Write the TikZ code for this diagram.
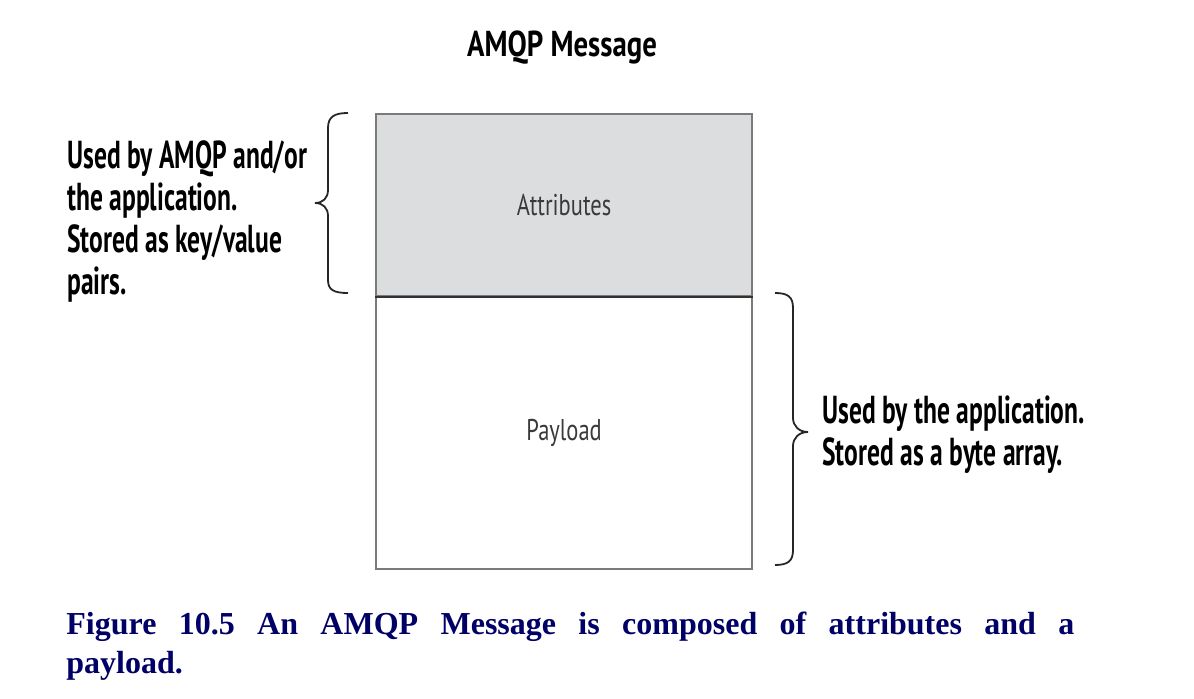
\documentclass[tikz,border=0pt]{standalone}
\usepackage{fontspec}
\setmainfont{Liberation Serif}
\newfontfamily\lblfont[FakeStretch=0.655]{PT Sans}
\newfontfamily\titlefont[FakeStretch=0.8]{PT Sans}
\newfontfamily\innerfont[FakeStretch=0.75]{PT Sans}
\definecolor{capnavy}{HTML}{000066}
\definecolor{boxgray}{HTML}{DCDDDF}
\definecolor{edgegray}{HTML}{7A7A7A}
\definecolor{innertext}{HTML}{3A3A3A}
\tikzset{
  side/.style={font=\lblfont\bfseries\fontsize{19.5}{21}\selectfont, align=left, inner sep=0pt, anchor=north west},
  inner/.style={font=\innerfont\fontsize{15}{17}\selectfont, text=innertext, inner sep=0pt},
  bracestyle/.style={line width=0.9pt, black!85},
}
\begin{document}
\begin{tikzpicture}[x=0.5pt,y=-0.5pt]
\useasboundingbox (0,0) rectangle (1194,699);
% boxes
\node[draw=edgegray, line width=1.1pt, fill=boxgray, minimum width=188pt, minimum height=91pt, inner sep=0pt, anchor=north west] (attr) at (375,113) {};
\node[draw=edgegray, line width=1.1pt, fill=white, minimum width=188pt, minimum height=136.5pt, inner sep=0pt, anchor=north west] (pay) at (375,295) {};
\draw[line width=1.1pt, black!80] (attr.south west) -- (attr.south east);
\node[inner] (attrtxt) at (attr.center) {Attributes};
\node[inner] (paytxt) at (pay.center) {Payload};
% title
\node[font=\titlefont\bfseries\fontsize{18}{20}\selectfont, inner sep=0pt, anchor=base] (title) at (562,57) {AMQP Message};
% left brace
\draw[bracestyle] (348,113) .. controls (334,113) and (328,117) .. (328,128) -- (328,190)
  .. controls (328,198) and (323,203) .. (315,203)
  .. controls (323,203) and (328,208) .. (328,216) -- (328,280)
  .. controls (328,290) and (334,293) .. (348,293);
% right brace
\draw[bracestyle] (775,293) .. controls (788,293) and (793,297) .. (793,308) -- (793,418)
  .. controls (793,426) and (799,432) .. (808,432)
  .. controls (799,432) and (793,438) .. (793,446) -- (793,550)
  .. controls (793,561) and (788,565) .. (775,565);
% side texts
\node[side] (lefttxt) at (67,140) {Used by AMQP and/or\\the application.\\Stored as key/value\\pairs.};
\node[side] (righttxt) at (822,395) {Used by the application.\\Stored as a byte array.};
% caption
\node[font=\bfseries\fontsize{16}{19.5}\selectfont, text=capnavy, text width=504pt, align=justify, inner sep=0pt, anchor=north west] (cap) at (66,612) {Figure 10.5 An AMQP Message is composed of attributes and a\linebreak payload.};
\end{tikzpicture}
\end{document}
